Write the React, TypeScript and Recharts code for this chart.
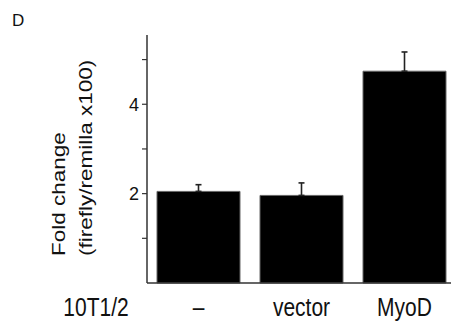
import React from "react";
import { BarChart, Bar, XAxis, YAxis, ErrorBar } from "recharts";

const groups = ["–", "vector", "MyoD"];
const foldChange = [2.05, 1.96, 4.74];
const upperError = [0.15, 0.28, 0.43];
const yTicks = [1, 2, 3, 4, 5];
const labelledTicks = [2, 4];

const data = groups.map((g, i) => ({
    group: g,
    value: foldChange[i],
    err: [0, upperError[i]],
}));

const FONT = "'Liberation Sans', Arial, sans-serif";

function GroupTick({ x, payload }: any) {
    return (
        <g transform={`translate(${x},316) scale(1,1.2)`}>
            <text textAnchor="middle" fontSize={21} fontFamily={FONT} fill="#111">
                {payload.value}
            </text>
        </g>
    );
}

export default function App() {
    return (
        <div
            style={{
                position: "absolute",
                left: 0,
                top: 0,
                width: 451,
                height: 323,
                overflow: "hidden",
                background: "#fff",
            }}
        >
            <BarChart
                width={456}
                height={323}
                data={data}
                margin={{ top: 35, right: 0, bottom: 0, left: 0 }}
                barSize={83}
            >
                <XAxis
                    dataKey="group"
                    height={40}
                    tickLine={false}
                    axisLine={{ stroke: "#333", strokeWidth: 1.5 }}
                    tick={<GroupTick />}
                    interval={0}
                />
                <YAxis
                    width={147}
                    domain={[0, 5.55]}
                    ticks={yTicks}
                    tickSize={5}
                    tickMargin={3}
                    tickFormatter={(v: number) => (labelledTicks.includes(v) ? String(v) : "")}
                    tick={{ fill: "#111", fontSize: 18, fontFamily: FONT }}
                    tickLine={{ stroke: "#333", strokeWidth: 1.2 }}
                    axisLine={{ stroke: "#333", strokeWidth: 1.5 }}
                />
                <Bar dataKey="value" fill="#000" stroke="#666" strokeWidth={1} isAnimationActive={false}>
                    <ErrorBar dataKey="err" direction="y" width={3} stroke="#222" strokeWidth={1.6} />
                </Bar>
            </BarChart>

            {/* labels drawn outside the plot */}
            <svg
                width={451}
                height={323}
                style={{ position: "absolute", left: 0, top: 0, pointerEvents: "none" }}
            >
                <text x={12} y={26} fontSize={17} fontFamily={FONT} fill="#111">D</text>
                <g transform="translate(65,256) rotate(-90) scale(1.25,1)">
                    <text fontSize={18} fontFamily={FONT} fill="#111">Fold change</text>
                </g>
                <g transform="translate(92,256) rotate(-90) scale(1.25,1)">
                    <text fontSize={18} fontFamily={FONT} fill="#111">(firefly/remilla x100)</text>
                </g>
                <g transform="translate(96,316) scale(1,1.2)">
                    <text textAnchor="middle" fontSize={21} fontFamily={FONT} fill="#111">10T1/2</text>
                </g>
            </svg>
        </div>
    );
}
